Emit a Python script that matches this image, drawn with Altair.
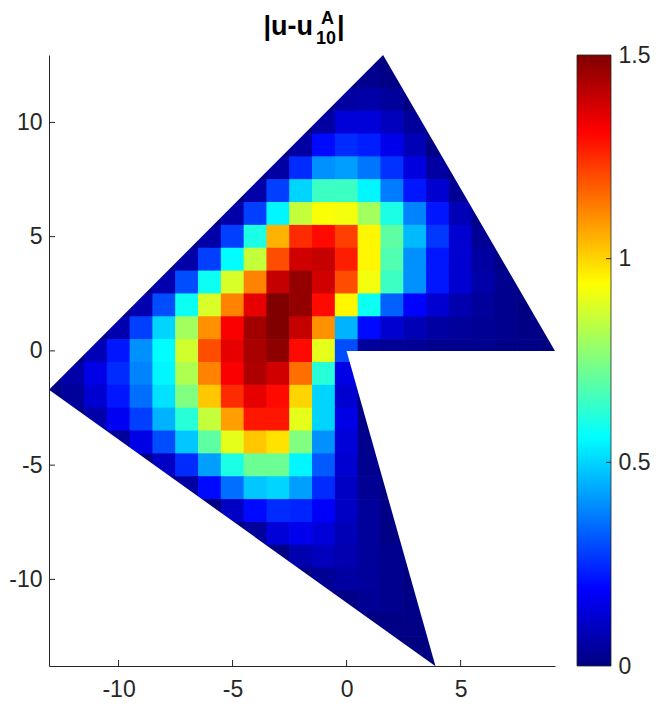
import altair as alt
import pandas as pd

# ---------------- data ----------------
# cell centres: one row per y value, each row starts at X_START and steps by 1
Y_ROWS = list(range(13, -15, -1))
X_START = [1, 0, -1, -2, -3, -4, -5, -6, -7, -8, -9, -10, -11, -12,
           -13, -13, -12, -11, -9, -8, -6, -5, -4, -2, -1, 1, 2, 3]
VALUES = [
    [0.0, 0.0],
    [0.0, 0.02, 0.01],
    [0.0, 0.05, 0.06, 0.04, 0.0],
    [0.0, 0.05, 0.13, 0.13, 0.09, 0.04, 0.0],
    [0.0, 0.05, 0.2, 0.25, 0.23, 0.16, 0.08, 0.01],
    [0.0, 0.05, 0.25, 0.4, 0.42, 0.36, 0.26, 0.14, 0.05, 0.0],
    [0.0, 0.06, 0.28, 0.5, 0.65, 0.65, 0.55, 0.37, 0.22, 0.12, 0.03],
    [0.0, 0.06, 0.28, 0.55, 0.85, 0.93, 0.92, 0.8, 0.6, 0.38, 0.22, 0.08, 0.01],
    [0.0, 0.06, 0.28, 0.6, 1.05, 1.25, 1.3, 1.22, 0.95, 0.7, 0.46, 0.27, 0.12, 0.03, 0.0],
    [0.01, 0.06, 0.28, 0.56, 0.85, 1.2, 1.38, 1.4, 1.27, 0.95, 0.68, 0.4, 0.22, 0.12, 0.05, 0.01],
    [0.01, 0.07, 0.3, 0.58, 0.88, 1.12, 1.4, 1.47, 1.38, 1.2, 0.92, 0.65, 0.4, 0.22, 0.12, 0.06, 0.02, 0.0],
    [0.01, 0.07, 0.3, 0.58, 0.88, 1.12, 1.35, 1.5, 1.47, 1.3, 0.95, 0.58, 0.33, 0.19, 0.12, 0.07, 0.04, 0.02, 0.0],
    [0.01, 0.07, 0.28, 0.5, 0.8, 1.1, 1.32, 1.45, 1.5, 1.4, 1.1, 0.45, 0.2, 0.12, 0.08, 0.05, 0.04, 0.03, 0.02, 0.01, 0.0],
    [0.01, 0.08, 0.22, 0.4, 0.56, 0.87, 1.2, 1.35, 1.44, 1.48, 1.3, 0.9, 0.3, 0.04, 0.03, 0.03, 0.02, 0.02, 0.02, 0.01, 0.01, 0.0],
    [0.01, 0.06, 0.15, 0.25, 0.38, 0.55, 0.82, 1.12, 1.32, 1.43, 1.38, 1.15, 0.62, 0.15],
    [0.01, 0.04, 0.12, 0.22, 0.35, 0.52, 0.75, 1.02, 1.25, 1.35, 1.3, 1.0, 0.5, 0.12, 0.01],
    [0.01, 0.06, 0.17, 0.28, 0.45, 0.62, 0.85, 1.08, 1.28, 1.28, 0.9, 0.5, 0.15, 0.01],
    [0.01, 0.04, 0.15, 0.3, 0.48, 0.7, 0.9, 1.02, 0.98, 0.75, 0.4, 0.13, 0.02],
    [0.01, 0.1, 0.25, 0.42, 0.6, 0.72, 0.72, 0.55, 0.32, 0.12, 0.02, 0.0],
    [0.0, 0.05, 0.2, 0.35, 0.48, 0.5, 0.42, 0.25, 0.1, 0.03, 0.0],
    [0.0, 0.1, 0.2, 0.25, 0.24, 0.18, 0.1, 0.04, 0.01],
    [0.0, 0.04, 0.13, 0.16, 0.13, 0.08, 0.04, 0.01],
    [0.0, 0.01, 0.07, 0.09, 0.07, 0.04, 0.02, 0.0],
    [0.0, 0.03, 0.05, 0.04, 0.02, 0.0],
    [0.0, 0.01, 0.03, 0.02, 0.01],
    [0.0, 0.01, 0.01, 0.0],
    [0.0, 0.0, 0.0],
    [0.0, 0.0],
]

# domain outline (vertices of the polygon)
TOP_EDGE_X = [-13.05, 1.6, 9.14]
TOP_EDGE_Y = [-1.7, 12.95, 0.0]
LOW_EDGE_X = [-13.05, 3.9]
LOW_EDGE_Y = [-1.7, -13.8]
NOTCH_X = [0.0, 3.9, 9.14]
NOTCH_Y = [0.0, -13.8, -13.8]

X_DOMAIN = [-13.05, 9.14]
Y_DOMAIN = [-13.79, 12.95]
X_TICKS = [-10, -5, 0, 5]
Y_TICKS = [-10, -5, 0, 5, 10]
CBAR_TICKS = [0, 0.5, 1, 1.5]
COLOR_DOMAIN = [0, 1.5]

# jet colormap sampled at 9 evenly spaced points
JET_COLORS = ["#000080", "#0000ff", "#0080ff", "#00ffff", "#80ff80",
              "#ffff00", "#ff8000", "#ff0000", "#800000"]

# ---------------- build tables ----------------
OV = 0.015  # tiny overlap so that neighbouring cells leave no hairline seams
rows = []
for yc, xs0, vals in zip(Y_ROWS, X_START, VALUES):
    for i, v in enumerate(vals):
        xc = xs0 + i
        rows.append({"x0": xc - 0.5 - OV, "x1": xc + 0.5 + OV,
                     "y0": yc - 0.5 - OV, "y1": yc + 0.5 + OV, "v": v})
cells = pd.DataFrame(rows)

W, H = 506, 611
FONT = "Liberation Sans"
INK = "#262626"
FS = 23
CB_X0, CB_X1 = 528, 562   # colour bar placement (pixels from the plot's left edge)

xsc = alt.Scale(domain=X_DOMAIN, nice=False, zero=False)
ysc = alt.Scale(domain=Y_DOMAIN, nice=False, zero=False)
csc = alt.Scale(domain=COLOR_DOMAIN, range=JET_COLORS, interpolate="rgb")
cbsc = alt.Scale(domain=COLOR_DOMAIN, nice=False, zero=False)

xaxis = alt.Axis(values=X_TICKS, ticks=False, grid=False, title=None,
                 labelFontSize=FS, labelFont=FONT, labelColor=INK,
                 labelExpr="toString(datum.value)",
                 labelPadding=12, domainColor=INK, zindex=1)
yaxis = alt.Axis(values=Y_TICKS, ticks=False, grid=False, title=None,
                 labelFontSize=FS, labelFont=FONT, labelColor=INK,
                 labelExpr="toString(datum.value)",
                 labelPadding=7, domainColor=INK, zindex=1)
cbaxis = alt.Axis(orient="right", offset=CB_X1 - W, values=CBAR_TICKS,
                  ticks=False, domain=False, grid=False, title=None,
                  labelFontSize=FS, labelFont=FONT, labelColor=INK,
                  labelExpr="toString(datum.value)", labelPadding=7,
                  labelFlush=False)

heat = alt.Chart(cells).mark_rect(clip=True).encode(
    x=alt.X("x0:Q", scale=xsc, axis=xaxis),
    x2="x1:Q",
    y=alt.Y("y0:Q", scale=ysc, axis=yaxis),
    y2="y1:Q",
    color=alt.Color("v:Q", scale=csc, legend=None),
)

Y_ABOVE = Y_DOMAIN[1] + 1
Y_BELOW = Y_DOMAIN[0] - 1
top_df = pd.DataFrame({"x": TOP_EDGE_X, "y": TOP_EDGE_Y, "y2": [Y_ABOVE] * 3})
low_df = pd.DataFrame({"x": LOW_EDGE_X, "y": LOW_EDGE_Y, "y2": [Y_BELOW] * 2})
notch_df = pd.DataFrame({"x": NOTCH_X, "y": NOTCH_Y, "y2": [0.0] * 3})

def mask(df):
    return alt.Chart(df).mark_area(color="white", clip=True, opacity=1).encode(
        x=alt.X("x:Q", scale=xsc), y=alt.Y("y:Q", scale=ysc), y2="y2:Q")

xt = alt.Chart(pd.DataFrame({"t": X_TICKS})).mark_rule(color=INK, strokeWidth=1).encode(
    x=alt.X("t:Q", scale=xsc), y=alt.value(H), y2=alt.value(H - 6))
yt = alt.Chart(pd.DataFrame({"t": Y_TICKS})).mark_rule(color=INK, strokeWidth=1).encode(
    y=alt.Y("t:Q", scale=ysc), x=alt.value(0), x2=alt.value(6))

one = pd.DataFrame({"a": [0]})
def txt(s, x, y, size, align):
    return alt.Chart(one).mark_text(font=FONT, fontSize=size, fontWeight="bold", align=align,
                                    baseline="alphabetic", color="black").encode(
        x=alt.value(x), y=alt.value(y), text=alt.value(s))

t_main = txt("|u-u", 264, -20, 27, "right")
t_sup = txt("A", 272, -31, 18, "left")
t_sub = txt("10", 267, -11, 18, "left")
t_end = txt("|", 288, -20, 27, "left")

main = alt.layer(heat, mask(top_df), mask(low_df), mask(notch_df), xt, yt,
                 t_main, t_sup, t_sub, t_end)

# ---- colour bar (jet gradient with its own 0..1.5 axis) ----
stops = [alt.GradientStop(offset=i / (len(JET_COLORS) - 1), color=c)
         for i, c in enumerate(JET_COLORS)]
jet_grad = alt.Gradient(gradient="linear", stops=stops, x1=0, x2=0, y1=1, y2=0)
cb_df = pd.DataFrame({"lo": [COLOR_DOMAIN[0]], "hi": [COLOR_DOMAIN[1]]})
cbar = alt.Chart(cb_df).mark_rect(fill=jet_grad, stroke=INK, strokeWidth=0.8).encode(
    x=alt.value(CB_X0), x2=alt.value(CB_X1),
    y=alt.Y("lo:Q", scale=cbsc, axis=cbaxis), y2="hi:Q")
cb_ticks = alt.Chart(pd.DataFrame({"t": CBAR_TICKS[1:-1]})).mark_rule(
    color=INK, strokeWidth=1).encode(
    y=alt.Y("t:Q", scale=cbsc), x=alt.value(CB_X1 - 5), x2=alt.value(CB_X1))
cb_layer = alt.layer(cbar, cb_ticks)

chart = alt.layer(main, cb_layer).resolve_scale(y="independent").properties(
    width=W, height=H,
    autosize=alt.AutoSizeParams(type="none"),
    padding={"left": 41, "top": 47, "right": 100, "bottom": 40},
    background="white",
).configure_view(stroke=None)

chart.save("out.html", embed_options={"renderer": "svg", "actions": False})
